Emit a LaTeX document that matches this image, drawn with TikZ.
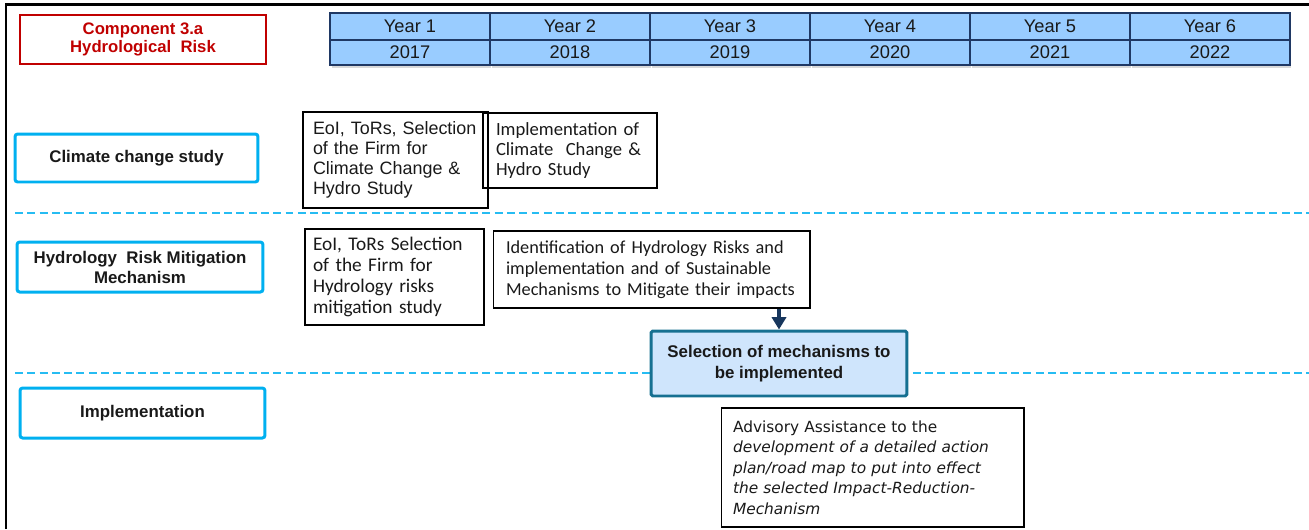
\documentclass[tikz,border=0pt]{standalone}
\usepackage{fontspec}
\setmainfont{Liberation Sans}
\newfontfamily\calibri{Carlito}
\newfontfamily\tahoma{DejaVu Sans}
\usepackage{tikz}
\usetikzlibrary{arrows.meta,shadows}
\definecolor{compred}{RGB}{192,0,0}
\definecolor{cellblue}{RGB}{153,204,255}
\definecolor{cellline}{RGB}{31,56,100}
\definecolor{rowcyan}{RGB}{0,176,240}
\definecolor{selfill}{RGB}{207,229,252}
\definecolor{selline}{RGB}{22,112,145}
\definecolor{navy}{RGB}{23,54,93}
\tikzstyle{yearcell}=[draw=cellline,fill=cellblue,line width=1pt,minimum width=3.2cm,inner sep=0pt,text=black!90,font=\fontsize{10.4}{12}\selectfont,drop shadow={shadow xshift=0.03cm,shadow yshift=-0.06cm,opacity=0.3}]
\tikzstyle{rowhead}=[draw=rowcyan,line width=1.7pt,rounded corners=1.5pt,align=center,text=black!90,font=\bfseries\fontsize{9.6}{11.4}\selectfont]
\tikzstyle{task}=[draw,line width=0.6pt,align=left,text=black!90]
\tikzstyle{sepline}=[rowcyan!85,line width=1.1pt,dash pattern=on 4.5pt off 2.5pt]

\begin{document}
\begin{tikzpicture}[x=0.02cm,y=-0.02cm]
  \useasboundingbox (0,0) rectangle (1309,529);
  % frame
  \draw[line width=1.4pt] (6,529) -- (6,4.5) -- (1309,4.5);
  % row separators
  \draw[sepline] (15,213) -- (1309,213);
  \draw[sepline] (15,373) -- (1309,373);

  \node[draw=compred,line width=1.6pt,minimum width=4.92cm,minimum height=0.98cm,align=center,text=compred,font=\bfseries\fontsize{9.5}{10.2}\selectfont] (comp) at (143,39.5) {Component 3.a\\Hydrological\ \ Risk};

  % years
  \foreach \i/\yr in {1/2017,2/2018,3/2019,4/2020,5/2021,6/2022} {
    \node[yearcell,minimum height=0.54cm] (year\i) at (250+160*\i,26.5) {Year \i};
    \node[yearcell,minimum height=0.5cm] (date\i) at (250+160*\i,52.5) {\yr};
  }

  % rows
  \node[rowhead,minimum width=4.86cm,minimum height=0.96cm] (climate) at (136.5,158) {Climate change study};
  \node[rowhead,minimum width=4.92cm,minimum height=1cm] (hydro) at (140,267) {Hydrology\ \ Risk Mitigation\\Mechanism};
  \node[rowhead,minimum width=4.9cm,minimum height=1cm] (impl) at (142.5,413) {Implementation};

  % tasks
  \node[task,minimum height=1.92cm,inner xsep=0.2cm,text width=3.3cm,font=\fontsize{10.2}{11.4}\selectfont] (eoiclim) at (395.5,160) {EoI, ToRs, Selection\\of the Firm for\\Climate Change \&\\Hydro Study};
  \node[task,minimum height=1.5cm,inner xsep=0.26cm,text width=2.96cm,font=\calibri\fontsize{10.6}{11.4}\selectfont] (implclim) at (570,150.5) {Implementation of\\Climate\ \ Change \&\\Hydro Study};
  \node[task,minimum height=1.92cm,inner xsep=0.16cm,text width=3.26cm,font=\calibri\fontsize{11}{11.8}\selectfont] (eoihydro) at (394.5,277) {EoI, ToRs Selection\\of the Firm for\\Hydrology risks\\mitigation study};
  \node[task,minimum height=1.54cm,inner xsep=0.26cm,text width=5.82cm,font=\calibri\fontsize{10.4}{12}\selectfont] (ident) at (651.5,269.5) {Identification of Hydrology Risks and\\implementation and of Sustainable\\Mechanisms to Mitigate their impacts};
  \node[draw=selline,fill=selfill,line width=1.7pt,rounded corners=1pt,minimum width=5.12cm,minimum height=1.3cm,align=center,text=black!90,font=\bfseries\fontsize{9.6}{12}\selectfont] (select) at (779,363.5) {Selection of mechanisms to\\be implemented};
  \node[task,minimum height=2.38cm,inner xsep=0.24cm,text width=5.58cm,font=\tahoma\fontsize{8.75}{11.7}\selectfont] (advis) at (872.5,467.5) {Advisory Assistance to the\\\textit{development of a detailed action}\\\textit{plan/road map to put into effect}\\\textit{the selected Impact-Reduction-}\\\textit{Mechanism}};

  \draw[navy,line width=1.8pt,-{Triangle[length=7pt,width=8pt]}] (select.north |- ident.south) -- (select.north);
\end{tikzpicture}
\end{document}
